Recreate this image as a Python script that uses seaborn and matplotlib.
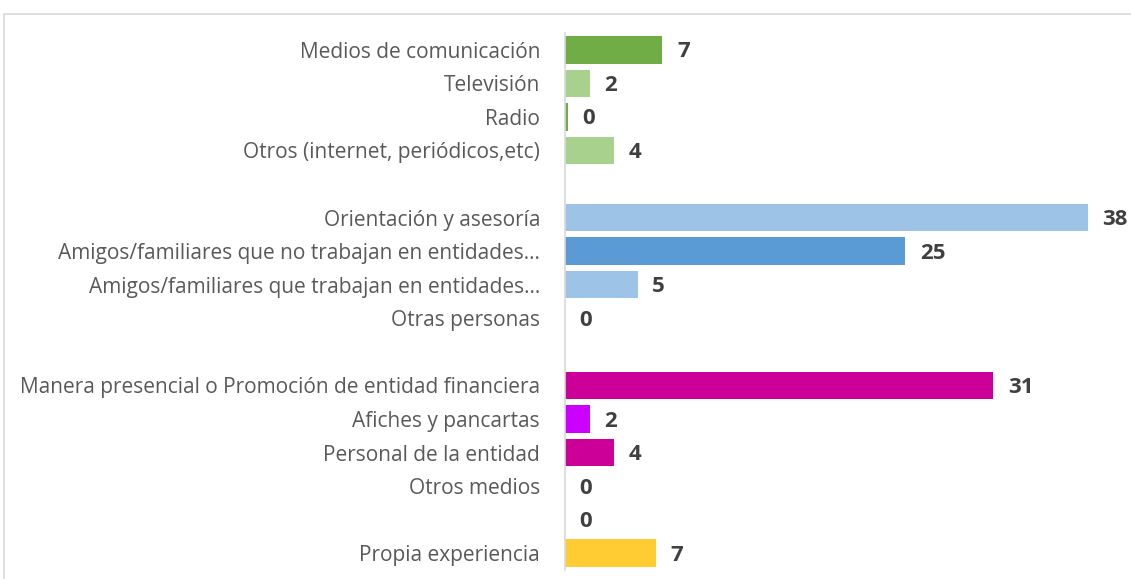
import numpy as np
import pandas as pd
import matplotlib.pyplot as plt
import seaborn as sns
from matplotlib.patches import Rectangle

etiquetas = [
    "Medios de comunicación",
    "Televisión",
    "Radio",
    "Otros (internet, periódicos,etc)",
    " ",
    "Orientación y asesoría",
    "Amigos/familiares que no trabajan en entidades…",
    "Amigos/familiares que trabajan en entidades…",
    "Otras personas",
    "  ",
    "Manera presencial o Promoción de entidad financiera",
    "Afiches y pancartas",
    "Personal de la entidad",
    "Otros medios",
    "   ",
    "Propia experiencia",
]
valores = [7.1, 1.8, 0.2, 3.6, np.nan, 38.1, 24.8, 5.3, 0, np.nan,
           31.2, 1.8, 3.6, 0, 0, 6.6]
colores = [
    "#70AD47", "#A9D18E", "#70AD47", "#A9D18E", "#FFFFFF",
    "#9DC3E6", "#5B9BD5", "#9DC3E6", "#9DC3E6", "#FFFFFF",
    "#CC0099", "#CC00FF", "#CC0099", "#CC0099", "#CC0099",
    "#FFCC33",
]

df = pd.DataFrame({"cat": etiquetas, "val": valores})

sns.set_style("white")
plt.rcParams["font.family"] = ["Open Sans", "DejaVu Sans"]

fig = plt.figure(figsize=(11.31, 5.79), dpi=100)
ax = fig.add_axes([565 / 1131, 1 - 570 / 579, 1 - 565 / 1131, (570 - 33) / 579])

sns.barplot(data=df, x="val", y="cat", hue="cat", palette=colores,
            legend=False, width=0.82, orient="h", saturation=1,
            linewidth=0, ax=ax)

ax.set_xlim(0, 566 / 13.72)
ax.set_ylim(15.5, -0.5)
ax.set_xlabel("")
ax.set_ylabel("")
ax.set_xticks([])
ax.tick_params(axis="y", length=0, pad=18, labelsize=15, labelcolor="#595959")

for s in ["top", "right", "bottom"]:
    ax.spines[s].set_visible(False)
ax.spines["left"].set_color("#D9D9D9")
ax.spines["left"].set_linewidth(1.2)

for i, v in enumerate(valores):
    if np.isnan(v):
        continue
    ax.annotate(f"{v:.0f}", xy=(v, i), xytext=(10.5, -1.5), textcoords="offset points",
                va="center", ha="left", fontsize=16, fontweight="bold",
                color="#404040")

fig.add_artist(Rectangle((4 / 1131, -0.2), 1.2, 1 - 14 / 579 + 0.2,
                         transform=fig.transFigure, fill=False,
                         edgecolor="#D9D9D9", linewidth=1.2))

fig.savefig("out.png", dpi=100)
